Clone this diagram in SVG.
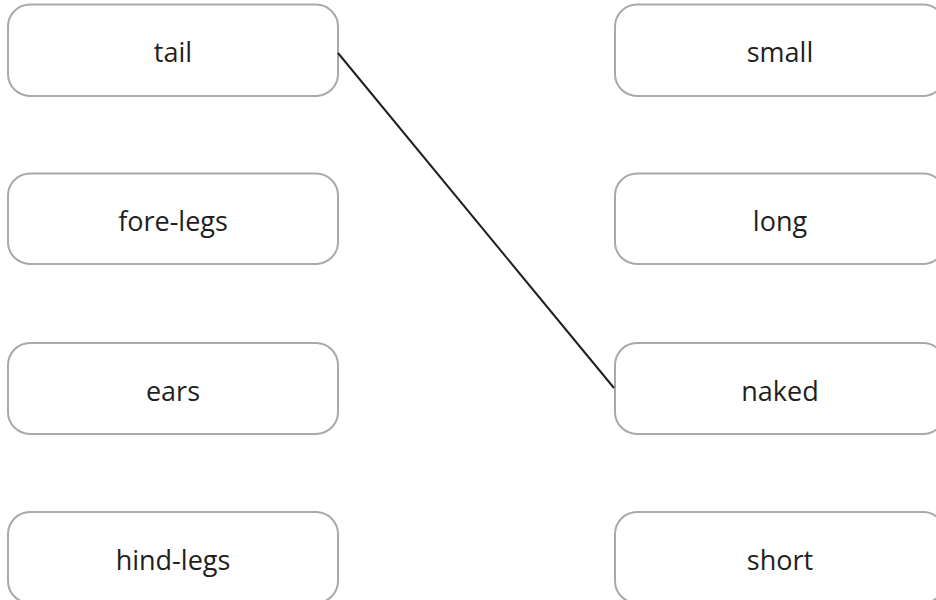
<svg xmlns="http://www.w3.org/2000/svg" width="936" height="600" viewBox="0 0 936 600">
<style>
.box{fill:#fff;stroke:#a7a9ac;stroke-width:2}
.lbl{font-family:"Open Sans","Noto Sans",sans-serif;font-size:27px;fill:#231f20;text-anchor:middle}
.conn{stroke:#231f20;stroke-width:2;fill:none}
</style>
<rect width="936" height="600" fill="#fff"/>
<g id="node-tail"><rect class="box" x="8" y="4.5" width="330" height="91.5" rx="22"/><text class="lbl" x="173" y="62">tail</text></g>
<g id="node-fore-legs"><rect class="box" x="8" y="173.5" width="330" height="90.5" rx="22"/><text class="lbl" x="173" y="231">fore-legs</text></g>
<g id="node-ears"><rect class="box" x="8" y="343" width="330" height="91" rx="22"/><text class="lbl" x="173" y="401">ears</text></g>
<g id="node-hind-legs"><rect class="box" x="8" y="512" width="330" height="91" rx="22"/><text class="lbl" x="173" y="570">hind-legs</text></g>
<g id="node-small"><rect class="box" x="615" y="4.5" width="330" height="91.5" rx="22"/><text class="lbl" x="780" y="62">small</text></g>
<g id="node-long"><rect class="box" x="615" y="173.5" width="330" height="90.5" rx="22"/><text class="lbl" x="780" y="231">long</text></g>
<g id="node-naked"><rect class="box" x="615" y="343" width="330" height="91" rx="22"/><text class="lbl" x="780" y="401">naked</text></g>
<g id="node-short"><rect class="box" x="615" y="512" width="330" height="91" rx="22"/><text class="lbl" x="780" y="570">short</text></g>
<g id="connectors"><line class="conn" x1="338" y1="53" x2="614" y2="388"/></g>
</svg>
